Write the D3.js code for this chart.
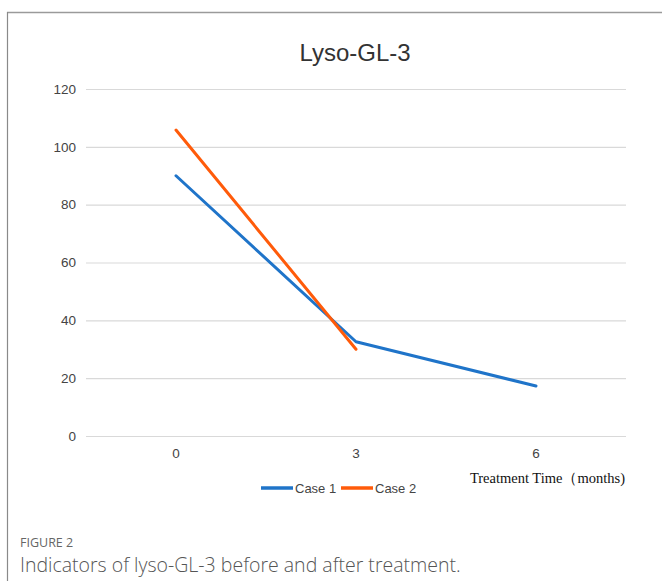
<!DOCTYPE html>
<html>
<head>
<meta charset="utf-8">
<script src="https://cdn.jsdelivr.net/npm/d3@7"></script>
<style>
  html, body { margin: 0; padding: 0; background: #fff; }
  svg { display: block; }
</style>
</head>
<body>
<svg id="chart" width="662" height="581"></svg>
<script>
const categories = ["0", "3", "6"];
const case1 = [90, 32.6, 17.3];
const case2 = [105.8, 30.0];
const yTicks = [0, 20, 40, 60, 80, 100, 120];
const seriesNames = ["Case 1", "Case 2"];
const seriesColors = ["#1f74c9", "#ff5b0a"];

const svg = d3.select("#chart");

// frame
svg.append("line").attr("x1", 7).attr("x2", 662).attr("y1", 12.5).attr("y2", 12.5)
  .attr("stroke", "#9a9a9a").attr("stroke-width", 1.5);
svg.append("line").attr("x1", 7.5).attr("x2", 7.5).attr("y1", 12).attr("y2", 581)
  .attr("stroke", "#8a8a8a").attr("stroke-width", 1.2);

const x = d3.scaleBand().domain(categories).range([86, 626]);
const y = d3.scaleLinear().domain([0, 120]).range([436, 89]);

// grid
const yAxis = d3.axisLeft(y).tickValues(yTicks).tickSize(-(626 - 86)).tickPadding(10);
const gy = svg.append("g").attr("transform", "translate(86,0)").call(yAxis);
gy.select(".domain").remove();
gy.selectAll(".tick line").attr("stroke", "#d9d9d9").attr("stroke-width", 1.2);
gy.selectAll(".tick text").attr("font-family", "Liberation Sans, Arial, sans-serif")
  .attr("font-size", 13.5).attr("fill", "#444").attr("x", -10);

// x axis
const xAxis = d3.axisBottom(x).tickSize(0).tickPadding(12);
const gx = svg.append("g").attr("transform", "translate(0,436)").call(xAxis);
gx.select(".domain").remove();
gx.selectAll(".tick text").attr("font-family", "Liberation Sans, Arial, sans-serif")
  .attr("font-size", 13.5).attr("fill", "#444");

// lines
const line = d3.line()
  .x((d, i) => x(categories[i]) + x.bandwidth() / 2)
  .y(d => y(d));

[case1, case2].forEach((s, k) => {
  svg.append("path").datum(s)
    .attr("d", line)
    .attr("fill", "none")
    .attr("stroke", seriesColors[k])
    .attr("stroke-width", 3)
    .attr("stroke-linejoin", "round")
    .attr("stroke-linecap", "round");
});

// title
svg.append("text").attr("x", 355).attr("y", 61).attr("text-anchor", "middle")
  .attr("font-family", "Liberation Sans, Arial, sans-serif").attr("font-size", 24)
  .attr("fill", "#333").text("Lyso-GL-3");

// x title
svg.append("text").attr("x", 625).attr("y", 483).attr("text-anchor", "end")
  .attr("font-family", "Liberation Serif, Times New Roman, serif").attr("font-size", 14.5)
  .attr("fill", "#111").text("Treatment Time（months)");

// legend
const legendItems = [{x: 261}, {x: 341}];
seriesNames.forEach((n, k) => {
  const lx = legendItems[k].x;
  svg.append("line").attr("x1", lx).attr("x2", lx + 32).attr("y1", 488).attr("y2", 488)
    .attr("stroke", seriesColors[k]).attr("stroke-width", 3.5);
  svg.append("text").attr("x", lx + 34).attr("y", 493)
    .attr("font-family", "Liberation Sans, Arial, sans-serif").attr("font-size", 13)
    .attr("fill", "#444").text(n);
});

// caption
svg.append("text").attr("x", 20).attr("y", 547)
  .attr("font-family", "Open Sans, sans-serif").attr("font-size", 12.5)
  .attr("fill", "#666").text("FIGURE 2");
svg.append("text").attr("x", 20).attr("y", 572)
  .attr("font-family", "Open Sans, sans-serif").attr("font-size", 19.5).attr("font-weight", 300)
  .attr("fill", "#555").text("Indicators of lyso-GL-3 before and after treatment.");
</script>
</body>
</html>
